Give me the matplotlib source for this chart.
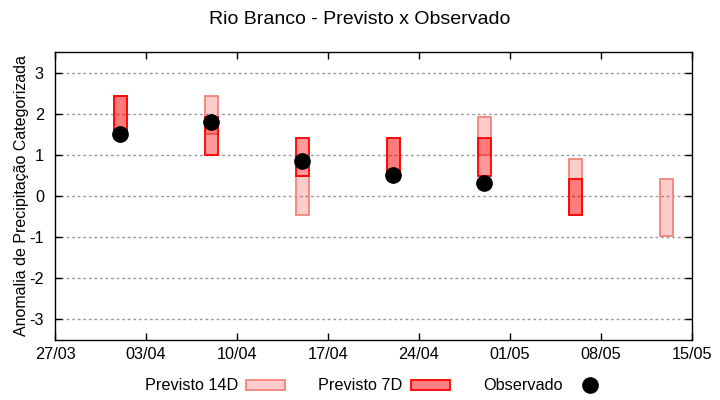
import matplotlib
matplotlib.use("Agg")
import matplotlib.pyplot as plt
import matplotlib.dates as mdates
from matplotlib.patches import Rectangle
from matplotlib.lines import Line2D
import numpy as np
import datetime as dt

plt.rcParams['font.family'] = ['Liberation Sans', 'DejaVu Sans']

# ---- data ----
dates = ["2025-04-01", "2025-04-08", "2025-04-15", "2025-04-22", "2025-04-29", "2025-05-06", "2025-05-13"]
p14_low = [1.50, 1.50, -0.47, 0.50, 1.00, -0.47, -0.97]
p14_high = [2.44, 2.44, 0.48, 1.41, 1.92, 0.91, 0.41]
p7_low = [1.50, 1.00, 0.48, 0.50, 0.49, -0.47, np.nan]
p7_high = [2.44, 1.92, 1.41, 1.41, 1.41, 0.41, np.nan]
obs_dates = ["2025-04-01", "2025-04-08", "2025-04-15", "2025-04-22", "2025-04-29"]
obs = [1.50, 1.80, 0.85, 0.50, 0.32]
tick_dates = ["2025-03-27", "2025-04-03", "2025-04-10", "2025-04-17", "2025-04-24", "2025-05-01", "2025-05-08", "2025-05-15"]
yticks = [-3, -2, -1, 0, 1, 2, 3]

title = "Rio Branco - Previsto x Observado"
ylabel = "Anomalia de Precipitação Categorizada"

# ---- plot ----
def d2n(s):
    return mdates.date2num(dt.datetime.strptime(s, "%Y-%m-%d"))

x = np.array([d2n(s) for s in dates])
xo = np.array([d2n(s) for s in obs_dates])
xt = [d2n(s) for s in tick_dates]

fig = plt.figure(figsize=(7.2, 4.0), dpi=100)
ax = fig.add_axes([55/720, 1-340/400, (692-55)/720, (340-52)/400])

h14 = np.array(p14_high) - np.array(p14_low)
h7 = np.array(p7_high) - np.array(p7_low)

ax.bar(x, h14, bottom=p14_low, width=1.0, facecolor=(1, 0, 0, 0.2),
       edgecolor='#f4837a', linewidth=1.3, zorder=2)
m = ~np.isnan(h7)
ax.bar(x[m], h7[m], bottom=np.array(p7_low)[m], width=1.0, facecolor=(1, 0, 0, 0.4),
       edgecolor='#ff0000', linewidth=1.3, zorder=3)
ax.plot(xo, obs, 'o', color='black', markersize=11, zorder=4)

ax.set_xlim(xt[0], xt[-1])
ax.set_ylim(-3.5, 3.5)
ax.set_xticks(xt)
ax.xaxis.set_major_formatter(mdates.DateFormatter('%d/%m'))
ax.set_yticks(yticks)
ax.set_yticklabels([str(v) for v in yticks])
ax.tick_params(direction='in', top=True, right=True, length=5, width=1,
               labelsize=11.7, pad=5)
ax.tick_params(axis='y', pad=8)
for sp in ax.spines.values():
    sp.set_linewidth(1)
ax.grid(axis='y', color='#999999', linestyle=(0, (2, 2)), linewidth=1)
ax.set_axisbelow(True)

ax.set_ylabel(ylabel, fontsize=11.5, labelpad=0)
fig.text(0.5, 1-20/400, title, ha='center', va='center', fontsize=14)

handles = [Rectangle((0, 0), 1, 1, facecolor='#ffcccc', edgecolor='#f4837a', linewidth=1.3),
           Rectangle((0, 0), 1, 1, facecolor='#ff8080', edgecolor='#ff0000', linewidth=1.3),
           Line2D([], [], marker='o', color='black', linestyle='none', markersize=11)]
labels = ["Previsto 14D", "Previsto 7D", "Observado"]
fig.legend(handles, labels, loc='center', bbox_to_anchor=(0.524, 1-386/400), ncol=3,
           markerfirst=False, frameon=False, fontsize=11.7, handlelength=2.4,
           handleheight=0.55, columnspacing=2.05, handletextpad=0.5)

fig.savefig("out.png", dpi=100)
